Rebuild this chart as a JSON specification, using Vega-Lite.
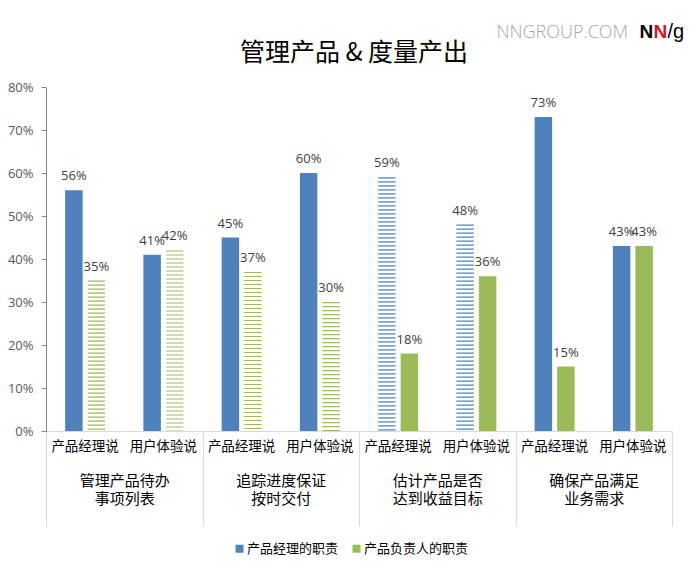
{
  "$schema": "https://vega.github.io/schema/vega-lite/v6.json",
  "width": 626,
  "height": 344,
  "autosize": {"type": "none"},
  "padding": {"left": 46, "top": 87, "right": 28, "bottom": 140},
  "background": "white",
  "title": {
    "text": "管理产品 & 度量产出",
    "frame": "group",
    "anchor": "middle",
    "baseline": "alphabetic",
    "offset": -65,
    "dx": -5,
    "font": "Noto Sans CJK SC",
    "fontSize": 25,
    "fontWeight": "normal",
    "color": "#000000"
  },
  "data": {
    "values": [
      {"topic": "管理产品待办事项列表", "item": "管理产品待办事项列表｜产品经理说", "role": "产品经理的职责", "value": 0.56, "significant": true},
      {"topic": "管理产品待办事项列表", "item": "管理产品待办事项列表｜产品经理说", "role": "产品负责人的职责", "value": 0.35, "significant": false},
      {"topic": "管理产品待办事项列表", "item": "管理产品待办事项列表｜用户体验说", "role": "产品经理的职责", "value": 0.41, "significant": true},
      {"topic": "管理产品待办事项列表", "item": "管理产品待办事项列表｜用户体验说", "role": "产品负责人的职责", "value": 0.42, "significant": false},
      {"topic": "追踪进度保证按时交付", "item": "追踪进度保证按时交付｜产品经理说", "role": "产品经理的职责", "value": 0.45, "significant": true},
      {"topic": "追踪进度保证按时交付", "item": "追踪进度保证按时交付｜产品经理说", "role": "产品负责人的职责", "value": 0.37, "significant": false},
      {"topic": "追踪进度保证按时交付", "item": "追踪进度保证按时交付｜用户体验说", "role": "产品经理的职责", "value": 0.60, "significant": true},
      {"topic": "追踪进度保证按时交付", "item": "追踪进度保证按时交付｜用户体验说", "role": "产品负责人的职责", "value": 0.30, "significant": false},
      {"topic": "估计产品是否达到收益目标", "item": "估计产品是否达到收益目标｜产品经理说", "role": "产品经理的职责", "value": 0.59, "significant": false},
      {"topic": "估计产品是否达到收益目标", "item": "估计产品是否达到收益目标｜产品经理说", "role": "产品负责人的职责", "value": 0.18, "significant": true},
      {"topic": "估计产品是否达到收益目标", "item": "估计产品是否达到收益目标｜用户体验说", "role": "产品经理的职责", "value": 0.48, "significant": false},
      {"topic": "估计产品是否达到收益目标", "item": "估计产品是否达到收益目标｜用户体验说", "role": "产品负责人的职责", "value": 0.36, "significant": true},
      {"topic": "确保产品满足业务需求", "item": "确保产品满足业务需求｜产品经理说", "role": "产品经理的职责", "value": 0.73, "significant": true},
      {"topic": "确保产品满足业务需求", "item": "确保产品满足业务需求｜产品经理说", "role": "产品负责人的职责", "value": 0.15, "significant": true},
      {"topic": "确保产品满足业务需求", "item": "确保产品满足业务需求｜用户体验说", "role": "产品经理的职责", "value": 0.43, "significant": true},
      {"topic": "确保产品满足业务需求", "item": "确保产品满足业务需求｜用户体验说", "role": "产品负责人的职责", "value": 0.43, "significant": true}
    ]
  },
  "layer": [
    {
      "encoding": {
        "x": {
          "field": "item",
          "type": "nominal",
          "sort": null,
          "scale": {"paddingInner": 0.489, "paddingOuter": 0.2445},
          "axis": {
            "labelExpr": "split(datum.label, '｜')[1]",
            "labelAngle": 0,
            "ticks": false,
            "domainColor": "#d9d9d9",
            "domainWidth": 1,
            "labelPadding": 8,
            "labelBaseline": "top",
            "labelFont": "Noto Sans CJK SC",
            "labelFontSize": 13.5,
            "labelColor": "#000000",
            "title": "N",
            "titleX": 593,
            "titleY": -394,
            "titleAlign": "left",
            "titleAnchor": null,
            "titleBaseline": "alphabetic",
            "titleFont": "Liberation Sans",
            "titleFontWeight": "bold",
            "titleFontSize": 19,
            "titleColor": "#000000"
          }
        },
        "xOffset": {
          "field": "role",
          "type": "nominal",
          "sort": null,
          "scale": {"paddingInner": 0.222, "paddingOuter": 0}
        },
        "y": {
          "field": "value",
          "type": "quantitative",
          "scale": {"domain": [0, 0.8], "nice": false},
          "axis": {
            "values": [0, 0.1, 0.2, 0.3, 0.4, 0.5, 0.6, 0.7, 0.8],
            "format": ".0%",
            "grid": false,
            "labelFont": "Open Sans",
            "labelFontSize": 13,
            "labelColor": "#595959",
            "labelPadding": 8,
            "tickSize": 5,
            "tickColor": "#868686",
            "domainColor": "#868686",
            "title": "NNGROUP.COM",
            "titleAngle": 0,
            "titleX": 450,
            "titleY": -50,
            "titleAlign": "left",
            "titleAnchor": null,
            "titleBaseline": "alphabetic",
            "titleFont": "Open Sans",
            "titleFontWeight": 300,
            "titleFontSize": 18,
            "titleColor": "#a6a6a6"
          }
        }
      },
      "layer": [
        {
          "transform": [{"filter": "datum.significant"}],
          "mark": {"type": "bar"},
          "encoding": {
            "color": {
              "field": "role",
              "type": "nominal",
              "sort": null,
              "scale": {"domain": ["产品经理的职责", "产品负责人的职责"], "range": ["#4f81bd", "#9bbb59"]},
              "legend": {
                "orient": "none",
                "legendX": 187,
                "legendY": 455,
                "direction": "horizontal",
                "title": null,
                "symbolType": "square",
                "symbolSize": 64,
                "symbolStrokeWidth": 0,
                "labelFont": "Noto Sans CJK SC",
                "labelFontSize": 13,
                "labelColor": "#000000",
                "labelOffset": 1,
                "columnPadding": 11
              }
            }
          }
        },
        {
          "transform": [{"filter": "!datum.significant"}],
          "mark": {"type": "rule", "strokeWidth": 17.5, "strokeDash": [1.2, 2.8], "strokeCap": "butt"},
          "encoding": {
            "y2": {"datum": 0},
            "stroke": {
              "field": "role",
              "type": "nominal",
              "scale": {"domain": ["产品经理的职责", "产品负责人的职责"], "range": ["#4f81bd", "#9bbb59"]},
              "legend": null
            }
          }
        },
        {
          "mark": {"type": "text", "dy": -10, "baseline": "alphabetic", "font": "Open Sans", "fontSize": 13, "color": "#404040"},
          "encoding": {
            "text": {"field": "value", "type": "quantitative", "format": ".0%"}
          }
        }
      ]
    },
    {
      "mark": {"type": "point", "opacity": 0},
      "encoding": {
        "x": {
          "field": "topic",
          "type": "nominal",
          "sort": null,
          "scale": {"paddingInner": 0, "paddingOuter": 0},
          "axis": {
            "orient": "bottom",
            "domain": false,
            "ticks": true,
            "tickBand": "extent",
            "tickSize": 95,
            "tickColor": "#d9d9d9",
            "labelExpr": "[substring(datum.label, 0, 6), substring(datum.label, 6)]",
            "labelAngle": 0,
            "labelPadding": -53,
            "labelBaseline": "top",
            "labelFont": "Noto Sans CJK SC",
            "labelFontSize": 15,
            "labelLineHeight": 18,
            "labelColor": "#000000",
            "title": "N",
            "titleX": 607,
            "titleY": -394,
            "titleAlign": "left",
            "titleAnchor": null,
            "titleBaseline": "alphabetic",
            "titleFont": "Liberation Sans",
            "titleFontWeight": "bold",
            "titleFontSize": 19,
            "titleColor": "#d7141a"
          }
        },
        "y": {
          "field": "value",
          "type": "quantitative",
          "scale": {"domain": [0, 0.8], "nice": false},
          "axis": {
            "orient": "right",
            "domain": false,
            "ticks": false,
            "labels": false,
            "grid": false,
            "title": "/g",
            "titleAngle": 0,
            "titleX": -5,
            "titleY": -50,
            "titleAlign": "left",
            "titleAnchor": null,
            "titleBaseline": "alphabetic",
            "titleFont": "Liberation Sans",
            "titleFontWeight": "normal",
            "titleFontSize": 20,
            "titleColor": "#000000"
          }
        }
      }
    }
  ],
  "resolve": {
    "scale": {"x": "independent", "y": "independent"},
    "axis": {"x": "independent", "y": "independent"}
  },
  "config": {
    "view": {"stroke": null},
    "axis": {"grid": false}
  }
}
